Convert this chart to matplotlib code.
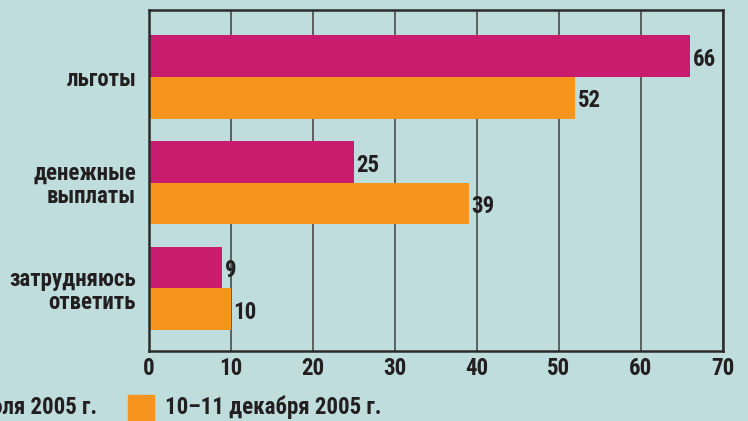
import matplotlib
matplotlib.use("Agg")
import matplotlib.pyplot as plt
from matplotlib import font_manager
import numpy as np

categories = ["льготы", "денежные\nвыплаты", "затрудняюсь\nответить"]
series_names = ["16–17 июля 2005 г.", "10–11 декабря 2005 г."]
july = [66, 25, 9]
december = [52, 39, 10]
xticks = [0, 10, 20, 30, 40, 50, 60, 70]

names = {f.name for f in font_manager.fontManager.ttflist}
fam = []
for n in ["Liberation Sans Narrow", "DejaVu Sans Condensed", "Roboto Condensed", "Liberation Sans", "DejaVu Sans"]:
    if n in names:
        fam.append(n)
plt.rcParams['font.family'] = fam + ["DejaVu Sans"]

bg = "#bfdddc"
magenta = "#c91c6f"
orange = "#f7941e"
txt = "#231f20"
fs = 16.5

fig = plt.figure(figsize=(7.48, 4.21), dpi=100, facecolor=bg)
ax = fig.add_axes([148.5/748, 1-351/421, (723-148.5)/748, (351-9.5)/421])
ax.set_facecolor(bg)

y = np.arange(len(categories))
h = 0.393
ax.barh(y - h/2, july, height=h, color=magenta, zorder=3)
ax.barh(y + h/2, december, height=h, color=orange, zorder=3)

for yi, v in zip(y - h/2, july):
    ax.text(v + 0.35, yi + 0.03, str(v), va="center", ha="left", fontsize=fs, fontweight="bold", color=txt)
for yi, v in zip(y + h/2, december):
    ax.text(v + 0.35, yi + 0.03, str(v), va="center", ha="left", fontsize=fs, fontweight="bold", color=txt)

ax.set_xlim(0, 70)
ax.set_ylim(2.591, -0.638)
ax.set_xticks(xticks)
ax.set_xticklabels([str(t) for t in xticks], fontsize=fs, fontweight="bold", color=txt)
ax.set_yticks(y)
ax.set_yticklabels(categories, fontsize=fs, fontweight="bold", color=txt, linespacing=1.0)
ax.tick_params(axis="x", length=0, pad=4)
ax.tick_params(axis="y", length=0, pad=9)
ax.grid(axis="x", color="#4a4a4a", linewidth=1.2, zorder=1)
for s in ax.spines.values():
    s.set_color("#2b2b2b")
    s.set_linewidth(1.8)
    s.set_zorder(4)

# legend at bottom (partly clipped at left edge, as in the reference)
fig.text(97/748, 1-407/421, series_names[0], ha="right", va="center", fontsize=fs, fontweight="bold", color=txt)
fig.patches.append(plt.Rectangle((128/748, 1-423/421), 26/748, 28/421, transform=fig.transFigure, color=orange, figure=fig))
fig.text(165/748, 1-407/421, series_names[1], ha="left", va="center", fontsize=fs, fontweight="bold", color=txt)

fig.savefig("out.png", dpi=100, facecolor=bg)
